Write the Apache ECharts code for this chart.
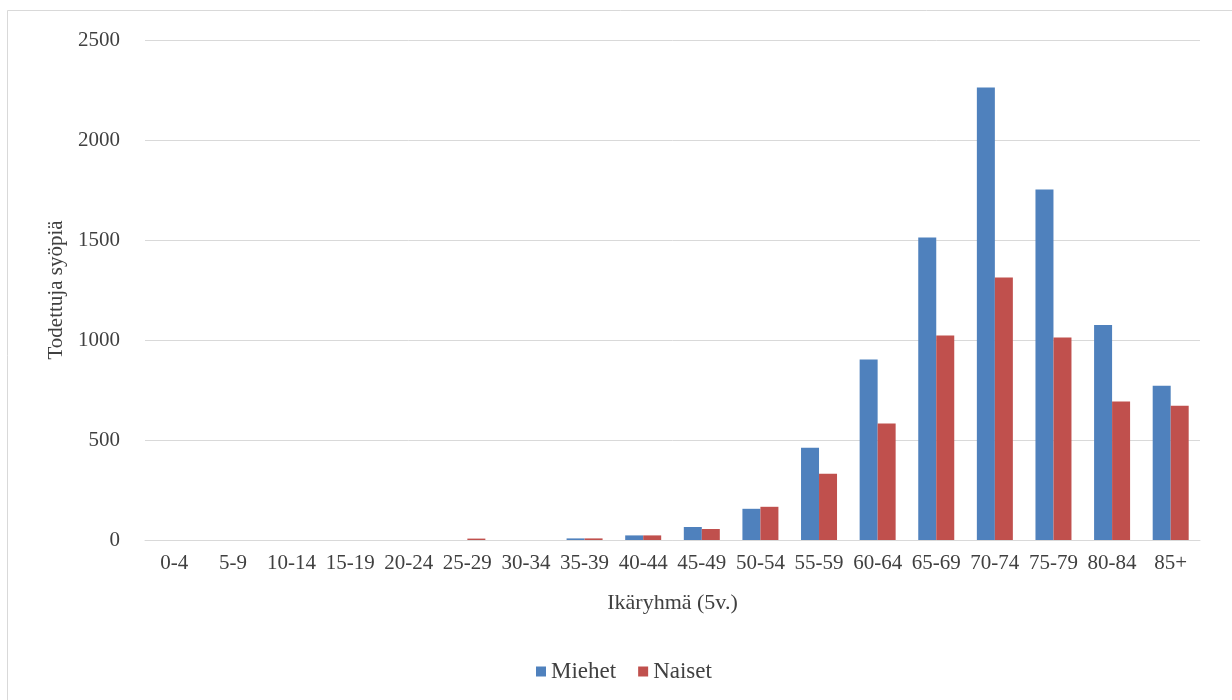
<!DOCTYPE html>
<html>
<head>
<meta charset="utf-8">
<script src="https://cdn.jsdelivr.net/npm/echarts@6/dist/echarts.min.js"></script>
<style>
  html, body { margin: 0; padding: 0; background: #ffffff; overflow: hidden; }
  #chart { width: 1232px; height: 700px; }
</style>
</head>
<body>
<div id="chart"></div>
<script>
// Age groups (5-year bands)
const ageGroups = ['0-4', '5-9', '10-14', '15-19', '20-24', '25-29', '30-34', '35-39', '40-44',
  '45-49', '50-54', '55-59', '60-64', '65-69', '70-74', '75-79', '80-84', '85+'];

// Diagnosed cancers by sex
const miehet = [0, 0, 0, 0, 0, 0, 0, 8, 23, 65, 156, 461, 902, 1513, 2263, 1753, 1075, 771];
const naiset = [0, 0, 0, 0, 0, 7, 0, 8, 23, 55, 166, 331, 582, 1023, 1313, 1013, 693, 671];

const yTicks = [0, 500, 1000, 1500, 2000, 2500];

const font = '"Liberation Serif", "Times New Roman", serif';
const textColor = '#404040';
const gridColor = '#d9d9d9';

const chart = echarts.init(document.getElementById('chart'), null, { renderer: 'canvas' });

chart.setOption({
  animation: false,
  backgroundColor: '#ffffff',
  textStyle: { fontFamily: font, color: textColor },
  graphic: [{
    type: 'rect',
    shape: { x: 7.5, y: 10.5, width: 1400, height: 900 },
    style: { fill: 'none', stroke: gridColor, lineWidth: 1 },
    silent: true
  }],
  grid: { left: 145, right: 32, top: 40, bottom: 160, containLabel: false },
  legend: {
    data: ['Miehet', 'Naiset'],
    left: 531,
    top: 655,
    itemWidth: 10,
    itemHeight: 10,
    itemGap: 22,
    icon: 'rect',
    textStyle: { fontFamily: font, fontSize: 23, color: textColor }
  },
  xAxis: {
    type: 'category',
    data: ageGroups,
    name: 'Ikäryhmä (5v.)',
    nameLocation: 'middle',
    nameGap: 52,
    nameTextStyle: { fontFamily: font, fontSize: 22, color: textColor },
    axisLine: { show: true, lineStyle: { color: gridColor, width: 1 } },
    axisTick: { show: false },
    axisLabel: { interval: 0, margin: 13, fontFamily: font, fontSize: 21, color: textColor }
  },
  yAxis: {
    type: 'value',
    min: yTicks[0],
    max: yTicks[yTicks.length - 1],
    interval: yTicks[1] - yTicks[0],
    name: 'Todettuja syöpiä',
    nameLocation: 'middle',
    nameGap: 78,
    nameRotate: 90,
    nameTextStyle: { fontFamily: font, fontSize: 21, color: textColor },
    axisLine: { show: false },
    axisTick: { show: false },
    axisLabel: {
      margin: 25, fontFamily: font, fontSize: 21, color: textColor,
      formatter: (v) => String(v)
    },
    splitLine: { lineStyle: { color: gridColor, width: 1 } }
  },
  series: [
    {
      name: 'Miehet',
      type: 'bar',
      data: miehet,
      barWidth: 18,
      barGap: '0%',
      itemStyle: { color: '#4f81bd', borderWidth: 0 }
    },
    {
      name: 'Naiset',
      type: 'bar',
      data: naiset,
      barWidth: 18,
      barGap: '0%',
      itemStyle: { color: '#c0504d', borderWidth: 0 }
    }
  ]
});
</script>
</body>
</html>
